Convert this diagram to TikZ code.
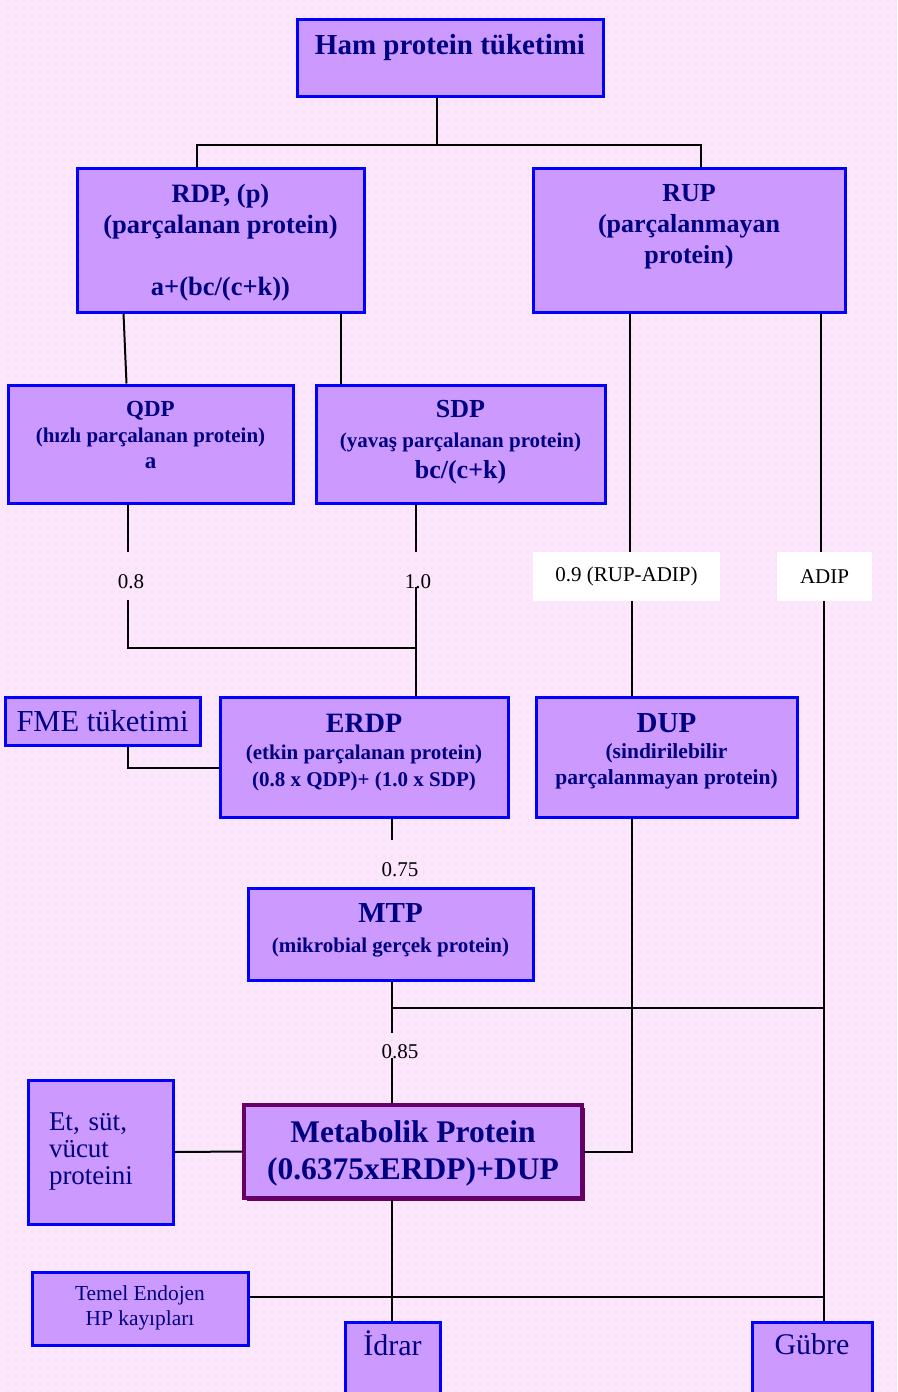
\documentclass[tikz,border=0pt]{standalone}
\usepackage{fontspec}
\setmainfont{Liberation Serif}
\usetikzlibrary{patterns,shadows}
\definecolor{bgpink}{HTML}{FCE6FC}
\definecolor{bgdot}{HTML}{E2C4E2}
\definecolor{boxfill}{HTML}{CC99FF}
\definecolor{boxblue}{HTML}{0000FF}
\definecolor{navytxt}{HTML}{000080}
\definecolor{mpborder}{HTML}{660066}
\newcommand{\fsz}[2]{\fontsize{#1}{#2}\selectfont}
\pgfdeclarepatternformonly{bgdots}{\pgfqpoint{-1pt}{-1pt}}{\pgfqpoint{1pt}{1pt}}{\pgfqpoint{8pt}{8pt}}{\pgfpathcircle{\pgfqpoint{0pt}{0pt}}{0.7pt}\pgfusepath{fill}}

\begin{document}
\begin{tikzpicture}[x=1pt,y=-1pt,
  pbox/.style={draw=boxblue, line width=3pt, fill=boxfill, text=navytxt,
    align=center, inner sep=0pt},
  lift/.style={text depth=#1},
  numlbl/.style={font=\fsz{21pt}{25pt}, text=black, inner sep=0pt},
  wbox/.style={fill=white, minimum height=49, inner sep=0pt,
    font=\fsz{21pt}{25pt}, text=black},
  conn/.style={line width=2pt, black}]
\clip (0,0) rectangle (897,1392);
\fill[bgpink] (0,0) rectangle (897,1392);
\fill[pattern=bgdots, pattern color=bgdot] (5,0) rectangle (897,1392);

% boxes
\node[pbox, minimum width=306, minimum height=77, lift=26pt, font=\bfseries\fsz{29pt}{34pt}] (ham) at (450,57.5) {Ham protein tüketimi};
\node[pbox, minimum width=287, minimum height=144, lift=1pt, font=\bfseries\fsz{26.5pt}{31pt}] (rdp) at (220.5,240) {RDP, (p)\\(parçalanan protein)\\ \\a+(bc/(c+k))};
\node[pbox, minimum width=312, minimum height=144, lift=33pt, font=\bfseries\fsz{26pt}{31pt}] (rup) at (689,240) {RUP\\(parçalanmayan\\protein)};
\node[pbox, minimum width=285, minimum height=118, lift=19pt, font=\bfseries\fsz{21pt}{26pt}] (qdp) at (150.5,444) {{\fsz{23pt}{26pt}QDP}\\(hızlı parçalanan protein)\\{\fsz{23pt}{26pt}a}};
\node[pbox, minimum width=289, minimum height=118, lift=10pt, font=\bfseries\fsz{21pt}{30.5pt}] (sdp) at (460.5,444) {{\fsz{26pt}{30.5pt}SDP}\\(yavaş parçalanan protein)\\{\fsz{26pt}{30.5pt}bc/(c+k)}};
\node[wbox, minimum width=187] (l09) at (626.5,576.5) {0.9 (RUP-ADIP)};
\node[wbox, minimum width=95] (ladip) at (824.5,576.5) {ADIP};
\node[pbox, minimum width=195, minimum height=48, font=\fsz{30.5pt}{34pt}] (fme) at (102.5,721) {FME tüketimi};
\node[pbox, minimum width=288, minimum height=120, lift=12.5pt, font=\bfseries\fsz{21pt}{27pt}] (erdp) at (364,757) {{\fsz{28pt}{27pt}ERDP}\\(etkin parçalanan protein)\\(0.8 x QDP)+ (1.0 x SDP)};
\node[pbox, minimum width=261, minimum height=120, lift=17pt, font=\bfseries\fsz{21.5pt}{26pt}] (dup) at (666.5,757) {{\fsz{29pt}{26pt}DUP}\\(sindirilebilir\\parçalanmayan protein)};
\node[pbox, minimum width=285, minimum height=92, lift=13pt, font=\bfseries\fsz{21pt}{30pt}] (mtp) at (390.5,934) {{\fsz{29pt}{30pt}MTP}\\(mikrobial gerçek protein)};
\node[pbox, draw=mpborder, line width=3.5pt, minimum width=338, minimum height=93, lift=2pt, font=\bfseries\fsz{31.5pt}{37pt},
  drop shadow={shadow xshift=3pt, shadow yshift=-3pt, fill=mpborder, opacity=1}] (mp) at (413,1151.5) {Metabolik Protein\\(0.6375xERDP)+DUP};
\node[pbox, minimum width=145, minimum height=144, align=left, text width=103, inner xsep=21pt, font=\fsz{27pt}{27pt}] (et) at (100.5,1152) {Et, süt,\\vücut\\proteini};
\node[pbox, minimum width=216, minimum height=73, lift=6.5pt, font=\fsz{21.4pt}{25pt}] (temel) at (140,1308.5) {Temel Endojen\\HP kayıpları};
\node[pbox, minimum width=95, minimum height=90, lift=48pt, font=\fsz{30pt}{34pt}] (idrar) at (392.5,1367) {İdrar};
\node[pbox, minimum width=120, minimum height=90, lift=45pt, font=\fsz{30pt}{34pt}] (gubre) at (812,1367) {Gübre};

% factor labels
\node[numlbl] (l08) at (131,582) {0.8};
\node[numlbl] (l10) at (418,582) {1.0};
\node[numlbl] (l075) at (400,870) {0.75};
\node[numlbl] (l085) at (400,1051.5) {0.85};

% junction points
\coordinate (jl) at (197,145);
\coordinate (jm) at (437,145);
\coordinate (jr) at (701,145);
\coordinate (q1) at (128,552);
\coordinate (q2) at (128,600);
\coordinate (s1) at (416,552);
\coordinate (s2) at (416,587);
\coordinate (jq) at (416,648);
\coordinate (r1) at (630,552);
\coordinate (r2) at (632,601);
\coordinate (a1) at (821,552);
\coordinate (a2) at (824,601);
\coordinate (f1) at (128,768);
\coordinate (e1) at (392,840);
\coordinate (m0) at (392,1008);
\coordinate (m1) at (392,1033);
\coordinate (m2) at (392,1058);
\coordinate (t1) at (824,1297);

% connectors
\draw[conn] (ham.south -| jm) -- (jm);
\draw[conn] (rdp.north -| jl) -- (jl) -- (jr) -- (rup.north -| jr);
\draw[conn] ([xshift=48pt]rdp.south west) -- ([xshift=120pt]qdp.north west);
\draw[conn] ([xshift=265pt]rdp.south west) -- ([xshift=26pt]sdp.north west);
\draw[conn] (qdp.south -| q1) -- (q1);
\draw[conn] (q2) |- (jq);
\draw[conn] (sdp.south -| s1) -- (s1);
\draw[conn] (s2) -- (erdp.north -| s2);
\draw[conn] (rup.south -| r1) -- (r1);
\draw[conn] (r2) -- (dup.north -| r2);
\draw[conn] (rup.south -| a1) -- (a1);
\draw[conn] (a2) -- (gubre.north -| a2);
\draw[conn] (fme.south -| f1) -- (f1) -- (erdp.west |- f1);
\draw[conn] (erdp.south -| e1) -- (e1);
\draw[conn] (mtp.south -| m1) -- (m1);
\draw[conn] (m0) -- (m0 -| a2);
\draw[conn] (m2) -- (mp.north -| m2);
\draw[conn] (dup.south -| r2) |- (mp.east);
\draw[conn] (et.east) -- (mp.west);
\draw[conn] (mp.south -| m2) -- (idrar.north -| m2);
\draw[conn] (temel.east |- t1) -- (t1);
\end{tikzpicture}
\end{document}
